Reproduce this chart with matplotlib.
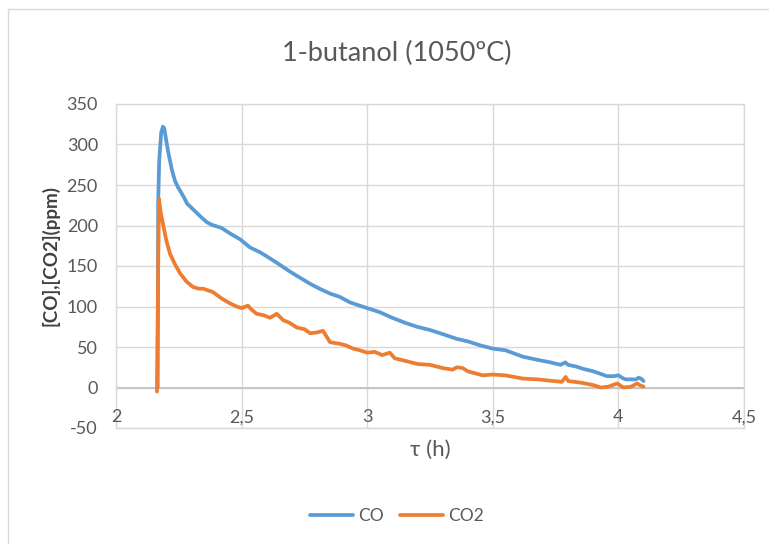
import matplotlib
matplotlib.use("Agg")
import matplotlib.pyplot as plt
from matplotlib.patches import Rectangle

# ---- data ----
co_t = [2.166, 2.168, 2.172, 2.18, 2.187, 2.192, 2.2, 2.207, 2.215, 2.223, 2.235, 2.247,
        2.255, 2.27, 2.283, 2.3, 2.32, 2.34, 2.362, 2.38, 2.4, 2.42, 2.44, 2.46, 2.494,
        2.533, 2.573, 2.61, 2.64, 2.693, 2.73, 2.773, 2.81, 2.852, 2.89, 2.932, 2.97,
        3.0, 3.05, 3.1, 3.15, 3.198, 3.25, 3.3, 3.357, 3.4, 3.45, 3.5, 3.55, 3.62, 3.68,
        3.73, 3.77, 3.788, 3.8, 3.83, 3.86, 3.9, 3.955, 3.98, 4.0, 4.02, 4.03, 4.05,
        4.07, 4.08, 4.09, 4.1]
co_v = [0, 230, 280, 315, 322, 320, 305, 292, 280, 268, 255, 247,
        243, 235, 227, 222, 216, 210, 204, 201, 199, 197, 193, 189, 183,
        173, 167, 160, 154, 143, 136, 128, 122, 116, 112, 105, 101,
        98, 93, 86, 80, 75, 71, 66, 60, 57, 52, 48, 46, 38, 34,
        31, 28, 31, 28, 26, 23, 20, 14, 14, 15, 11, 10, 10,
        10, 12, 11, 8]

co2_t = [2.163, 2.168, 2.171, 2.177, 2.187, 2.2, 2.215, 2.235, 2.255, 2.28, 2.307, 2.33,
         2.347, 2.365, 2.385, 2.42, 2.453, 2.48, 2.5, 2.525, 2.54, 2.56, 2.59, 2.613,
         2.64, 2.666, 2.69, 2.72, 2.75, 2.773, 2.8, 2.824, 2.84, 2.852, 2.87, 2.89,
         2.915, 2.944, 2.97, 3.0, 3.03, 3.06, 3.09, 3.11, 3.15, 3.2, 3.25, 3.3, 3.34,
         3.357, 3.38, 3.4, 3.46, 3.5, 3.55, 3.62, 3.68, 3.74, 3.775, 3.79, 3.8, 3.85,
         3.9, 3.93, 3.96, 3.995, 4.02, 4.05, 4.075, 4.085, 4.1]
co2_v = [-5, 150, 233, 218, 202, 182, 165, 152, 141, 131, 124, 122,
         122, 120, 118, 110, 104, 100, 98, 101, 96, 91, 89, 86,
         91, 83, 80, 74, 72, 67, 68, 70, 62, 56, 55, 54,
         52, 48, 46, 43, 44, 40, 43, 36, 33, 29, 28, 24, 22,
         25, 24, 20, 15, 16, 15, 11, 10, 8, 7, 13, 8, 6,
         3, 0, 1, 5, 0, 1, 5, 3, 1]

x_ticks = [2, 2.5, 3, 3.5, 4, 4.5]
x_tick_labels = ["2", "2,5", "3", "3,5", "4", "4,5"]
y_ticks = [-50, 0, 50, 100, 150, 200, 250, 300, 350]
y_tick_labels = ["-50", "0", "50", "100", "150", "200", "250", "300", "350"]

title = "1-butanol (1050ºC)"
xlabel = "τ (h)"
ylabel = "[CO],[CO2](ppm)"
series_names = ["CO", "CO2"]

# ---- style ----
plt.rcParams['font.family'] = ['Lato', 'DejaVu Sans']
TXT = '#595959'
GRID = '#D9D9D9'
C_CO = '#5B9BD5'
C_CO2 = '#ED7D31'

W, H = 769, 544
fig = plt.figure(figsize=(W / 100, H / 100), dpi=100)
fig.patch.set_facecolor('white')

# outer chart frame (cropped on right/bottom)
fig.add_artist(Rectangle((8 / W, -0.2), 1.2, 1 - 9 / H + 0.2, transform=fig.transFigure,
                         fill=False, edgecolor=GRID, linewidth=1.0))

L, R, B, T = 116, 744, 428, 104
ax = fig.add_axes([L / W, 1 - B / H, (R - L) / W, (B - T) / H])
ax.set_xlim(x_ticks[0], x_ticks[-1])
ax.set_ylim(y_ticks[0], y_ticks[-1])

for s in ax.spines.values():
    s.set_color(GRID)
    s.set_linewidth(1.0)

ax.set_xticks(x_ticks)
ax.set_yticks(y_ticks)
ax.set_xticklabels([])
ax.set_yticklabels(y_tick_labels, color=TXT, fontsize=13)
ax.tick_params(axis='both', length=0)
ax.tick_params(axis='y', pad=13)
ax.grid(True, color=GRID, linewidth=1.0)
ax.set_axisbelow(True)
ax.axhline(0, color='#BFBFBF', linewidth=1.2, zorder=1)

for xt, lab in zip(x_ticks, x_tick_labels):
    ax.text(xt, -37, lab, ha='center', va='center', color=TXT, fontsize=13)

ax.plot(co_t, co_v, color=C_CO, linewidth=2.7, label=series_names[0],
        solid_joinstyle='round', solid_capstyle='round', zorder=3)
ax.plot(co2_t, co2_v, color=C_CO2, linewidth=2.7, label=series_names[1],
        solid_joinstyle='round', solid_capstyle='round', zorder=4)

fig.text(397 / W, 1 - 53 / H, title, ha='center', va='center', color=TXT, fontsize=19.5)
fig.text(430 / W, 1 - 450 / H, xlabel, ha='center', va='center', color=TXT, fontsize=16)
fig.text(50 / W, 1 - 256 / H, ylabel, ha='center', va='center', rotation=90,
         color='#404040', fontsize=13.5, fontweight='bold')

fig.legend(loc='center', bbox_to_anchor=(397 / W, 1 - 516 / H), ncol=2, frameon=False,
           fontsize=12.5, handlelength=2.5, handletextpad=0.3, columnspacing=0.9,
           labelcolor=TXT)

fig.savefig('out.png', dpi=100)
